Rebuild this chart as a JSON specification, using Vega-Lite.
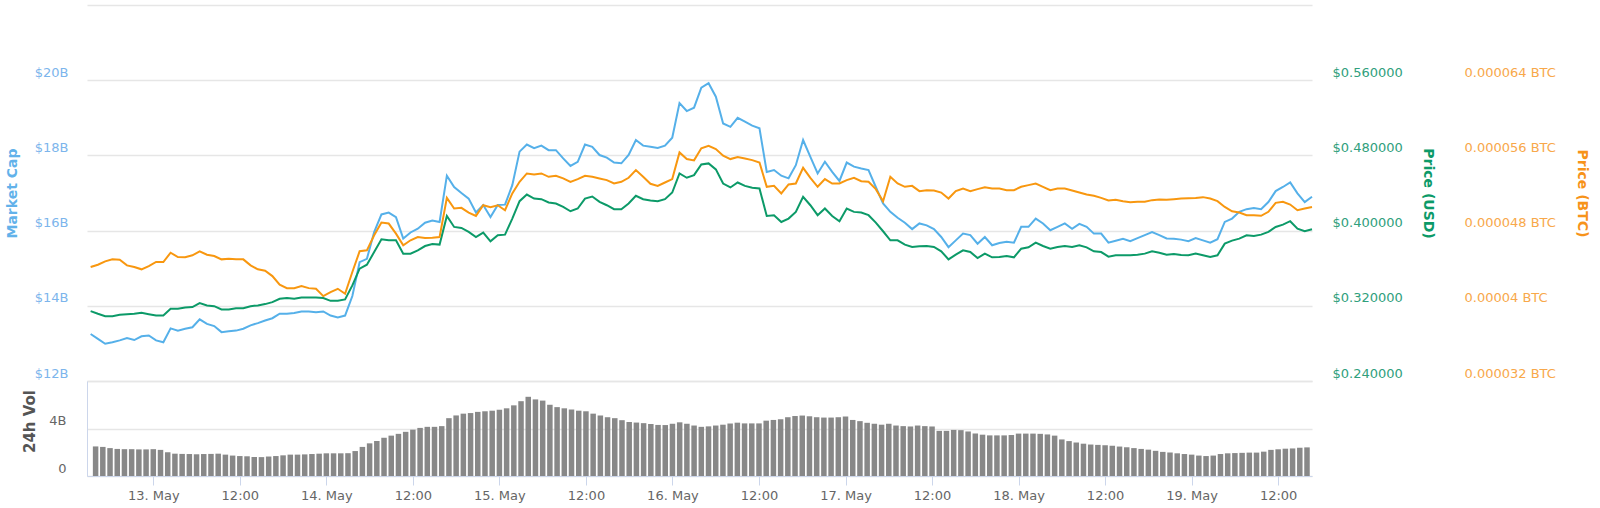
{
  "$schema": "https://vega.github.io/schema/vega-lite/v6.json",
  "description": "Market cap, price (USD), price (BTC) and 24h volume, 12-19 May",
  "autosize": "pad",
  "padding": {"left": 5, "top": 5, "right": 5, "bottom": 5},
  "background": "white",
  "spacing": 0,
  "bounds": "flush",
  "data": {
    "format": {"parse": {"t": "utc:'%Y-%m-%d %H'"}},
    "values": [
      {"t":"2019-05-12 16","cap":13.25,"usd":0.3143,"btc":0.00004412,"vol":2.49},
      {"t":"2019-05-12 17","cap":13.12,"usd":0.3115,"btc":0.00004437,"vol":2.45},
      {"t":"2019-05-12 18","cap":12.99,"usd":0.3090,"btc":0.00004473,"vol":2.35},
      {"t":"2019-05-12 19","cap":13.03,"usd":0.3090,"btc":0.00004494,"vol":2.28},
      {"t":"2019-05-12 20","cap":13.08,"usd":0.3104,"btc":0.00004491,"vol":2.26},
      {"t":"2019-05-12 21","cap":13.14,"usd":0.3111,"btc":0.00004430,"vol":2.26},
      {"t":"2019-05-12 22","cap":13.09,"usd":0.3115,"btc":0.00004412,"vol":2.24},
      {"t":"2019-05-12 23","cap":13.19,"usd":0.3125,"btc":0.00004388,"vol":2.24},
      {"t":"2019-05-13 00","cap":13.21,"usd":0.3111,"btc":0.00004423,"vol":2.26},
      {"t":"2019-05-13 01","cap":13.08,"usd":0.3097,"btc":0.00004466,"vol":2.20},
      {"t":"2019-05-13 02","cap":13.03,"usd":0.3097,"btc":0.00004466,"vol":2.00},
      {"t":"2019-05-13 03","cap":13.40,"usd":0.3168,"btc":0.00004565,"vol":1.88},
      {"t":"2019-05-13 04","cap":13.34,"usd":0.3168,"btc":0.00004519,"vol":1.86},
      {"t":"2019-05-13 05","cap":13.39,"usd":0.3182,"btc":0.00004516,"vol":1.85},
      {"t":"2019-05-13 06","cap":13.43,"usd":0.3186,"btc":0.00004537,"vol":1.83},
      {"t":"2019-05-13 07","cap":13.64,"usd":0.3228,"btc":0.00004580,"vol":1.85},
      {"t":"2019-05-13 08","cap":13.52,"usd":0.3204,"btc":0.00004544,"vol":1.86},
      {"t":"2019-05-13 09","cap":13.46,"usd":0.3196,"btc":0.00004530,"vol":1.88},
      {"t":"2019-05-13 10","cap":13.30,"usd":0.3161,"btc":0.00004494,"vol":1.80},
      {"t":"2019-05-13 11","cap":13.32,"usd":0.3161,"btc":0.00004501,"vol":1.72},
      {"t":"2019-05-13 12","cap":13.34,"usd":0.3175,"btc":0.00004494,"vol":1.68},
      {"t":"2019-05-13 13","cap":13.39,"usd":0.3175,"btc":0.00004494,"vol":1.66},
      {"t":"2019-05-13 14","cap":13.48,"usd":0.3196,"btc":0.00004430,"vol":1.60},
      {"t":"2019-05-13 15","cap":13.54,"usd":0.3204,"btc":0.00004388,"vol":1.59},
      {"t":"2019-05-13 16","cap":13.61,"usd":0.3218,"btc":0.00004373,"vol":1.64},
      {"t":"2019-05-13 17","cap":13.67,"usd":0.3239,"btc":0.00004316,"vol":1.68},
      {"t":"2019-05-13 18","cap":13.79,"usd":0.3275,"btc":0.00004224,"vol":1.74},
      {"t":"2019-05-13 19","cap":13.79,"usd":0.3282,"btc":0.00004188,"vol":1.80},
      {"t":"2019-05-13 20","cap":13.81,"usd":0.3275,"btc":0.00004188,"vol":1.80},
      {"t":"2019-05-13 21","cap":13.85,"usd":0.3289,"btc":0.00004210,"vol":1.82},
      {"t":"2019-05-13 22","cap":13.85,"usd":0.3289,"btc":0.00004188,"vol":1.85},
      {"t":"2019-05-13 23","cap":13.83,"usd":0.3289,"btc":0.00004181,"vol":1.88},
      {"t":"2019-05-14 00","cap":13.85,"usd":0.3282,"btc":0.00004103,"vol":1.91},
      {"t":"2019-05-14 01","cap":13.74,"usd":0.3253,"btc":0.00004146,"vol":1.91},
      {"t":"2019-05-14 02","cap":13.69,"usd":0.3253,"btc":0.00004181,"vol":1.91},
      {"t":"2019-05-14 03","cap":13.74,"usd":0.3268,"btc":0.00004128,"vol":1.92},
      {"t":"2019-05-14 04","cap":14.26,"usd":0.3417,"btc":0.00004359,"vol":2.10},
      {"t":"2019-05-14 05","cap":15.16,"usd":0.3595,"btc":0.00004580,"vol":2.45},
      {"t":"2019-05-14 06","cap":15.25,"usd":0.3637,"btc":0.00004590,"vol":2.75},
      {"t":"2019-05-14 07","cap":15.96,"usd":0.3772,"btc":0.00004750,"vol":2.95},
      {"t":"2019-05-14 08","cap":16.43,"usd":0.3908,"btc":0.00004885,"vol":3.22},
      {"t":"2019-05-14 09","cap":16.48,"usd":0.3897,"btc":0.00004875,"vol":3.40},
      {"t":"2019-05-14 10","cap":16.36,"usd":0.3897,"btc":0.00004768,"vol":3.55},
      {"t":"2019-05-14 11","cap":15.79,"usd":0.3755,"btc":0.00004644,"vol":3.72},
      {"t":"2019-05-14 12","cap":15.95,"usd":0.3755,"btc":0.00004697,"vol":3.90},
      {"t":"2019-05-14 13","cap":16.05,"usd":0.3790,"btc":0.00004732,"vol":4.05},
      {"t":"2019-05-14 14","cap":16.21,"usd":0.3836,"btc":0.00004722,"vol":4.14},
      {"t":"2019-05-14 15","cap":16.27,"usd":0.3858,"btc":0.00004725,"vol":4.14},
      {"t":"2019-05-14 16","cap":16.23,"usd":0.3851,"btc":0.00004732,"vol":4.20},
      {"t":"2019-05-14 17","cap":17.46,"usd":0.4156,"btc":0.00005148,"vol":4.87},
      {"t":"2019-05-14 18","cap":17.16,"usd":0.4039,"btc":0.00005035,"vol":5.10},
      {"t":"2019-05-14 19","cap":17.00,"usd":0.4028,"btc":0.00005042,"vol":5.25},
      {"t":"2019-05-14 20","cap":16.85,"usd":0.3986,"btc":0.00004992,"vol":5.30},
      {"t":"2019-05-14 21","cap":16.48,"usd":0.3932,"btc":0.00004956,"vol":5.40},
      {"t":"2019-05-14 22","cap":16.68,"usd":0.3979,"btc":0.00005070,"vol":5.45},
      {"t":"2019-05-14 23","cap":16.36,"usd":0.3886,"btc":0.00005049,"vol":5.50},
      {"t":"2019-05-15 00","cap":16.68,"usd":0.3950,"btc":0.00005070,"vol":5.58},
      {"t":"2019-05-15 01","cap":16.69,"usd":0.3957,"btc":0.00005017,"vol":5.70},
      {"t":"2019-05-15 02","cap":17.21,"usd":0.4128,"btc":0.00005195,"vol":5.95},
      {"t":"2019-05-15 03","cap":18.10,"usd":0.4313,"btc":0.00005319,"vol":6.30},
      {"t":"2019-05-15 04","cap":18.29,"usd":0.4384,"btc":0.00005408,"vol":6.67},
      {"t":"2019-05-15 05","cap":18.19,"usd":0.4341,"btc":0.00005397,"vol":6.45},
      {"t":"2019-05-15 06","cap":18.26,"usd":0.4334,"btc":0.00005408,"vol":6.35},
      {"t":"2019-05-15 07","cap":18.14,"usd":0.4299,"btc":0.00005372,"vol":6.00},
      {"t":"2019-05-15 08","cap":18.14,"usd":0.4288,"btc":0.00005383,"vol":5.80},
      {"t":"2019-05-15 09","cap":17.92,"usd":0.4252,"btc":0.00005355,"vol":5.70},
      {"t":"2019-05-15 10","cap":17.72,"usd":0.4206,"btc":0.00005319,"vol":5.60},
      {"t":"2019-05-15 11","cap":17.83,"usd":0.4235,"btc":0.00005348,"vol":5.50},
      {"t":"2019-05-15 12","cap":18.29,"usd":0.4341,"btc":0.00005383,"vol":5.45},
      {"t":"2019-05-15 13","cap":18.23,"usd":0.4363,"btc":0.00005372,"vol":5.25},
      {"t":"2019-05-15 14","cap":18.01,"usd":0.4306,"btc":0.00005355,"vol":5.10},
      {"t":"2019-05-15 15","cap":17.94,"usd":0.4270,"btc":0.00005337,"vol":4.95},
      {"t":"2019-05-15 16","cap":17.81,"usd":0.4228,"btc":0.00005301,"vol":4.87},
      {"t":"2019-05-15 17","cap":17.79,"usd":0.4228,"btc":0.00005319,"vol":4.70},
      {"t":"2019-05-15 18","cap":18.01,"usd":0.4288,"btc":0.00005362,"vol":4.55},
      {"t":"2019-05-15 19","cap":18.41,"usd":0.4370,"btc":0.00005444,"vol":4.50},
      {"t":"2019-05-15 20","cap":18.26,"usd":0.4334,"btc":0.00005372,"vol":4.45},
      {"t":"2019-05-15 21","cap":18.23,"usd":0.4320,"btc":0.00005298,"vol":4.38},
      {"t":"2019-05-15 22","cap":18.20,"usd":0.4313,"btc":0.00005276,"vol":4.30},
      {"t":"2019-05-15 23","cap":18.26,"usd":0.4334,"btc":0.00005312,"vol":4.29},
      {"t":"2019-05-16 00","cap":18.47,"usd":0.4405,"btc":0.00005348,"vol":4.40},
      {"t":"2019-05-16 01","cap":19.39,"usd":0.4608,"btc":0.00005632,"vol":4.52},
      {"t":"2019-05-16 02","cap":19.18,"usd":0.4562,"btc":0.00005561,"vol":4.40},
      {"t":"2019-05-16 03","cap":19.27,"usd":0.4590,"btc":0.00005547,"vol":4.25},
      {"t":"2019-05-16 04","cap":19.80,"usd":0.4704,"btc":0.00005675,"vol":4.14},
      {"t":"2019-05-16 05","cap":19.92,"usd":0.4715,"btc":0.00005703,"vol":4.18},
      {"t":"2019-05-16 06","cap":19.56,"usd":0.4651,"btc":0.00005668,"vol":4.25},
      {"t":"2019-05-16 07","cap":18.85,"usd":0.4501,"btc":0.00005596,"vol":4.32},
      {"t":"2019-05-16 08","cap":18.76,"usd":0.4459,"btc":0.00005561,"vol":4.42},
      {"t":"2019-05-16 09","cap":19.00,"usd":0.4512,"btc":0.00005582,"vol":4.49},
      {"t":"2019-05-16 10","cap":18.90,"usd":0.4476,"btc":0.00005568,"vol":4.43},
      {"t":"2019-05-16 11","cap":18.79,"usd":0.4455,"btc":0.00005550,"vol":4.43},
      {"t":"2019-05-16 12","cap":18.72,"usd":0.4448,"btc":0.00005525,"vol":4.43},
      {"t":"2019-05-16 13","cap":17.56,"usd":0.4156,"btc":0.00005266,"vol":4.66},
      {"t":"2019-05-16 14","cap":17.61,"usd":0.4164,"btc":0.00005276,"vol":4.72},
      {"t":"2019-05-16 15","cap":17.46,"usd":0.4092,"btc":0.00005195,"vol":4.78},
      {"t":"2019-05-16 16","cap":17.39,"usd":0.4128,"btc":0.00005291,"vol":4.95},
      {"t":"2019-05-16 17","cap":17.74,"usd":0.4199,"btc":0.00005301,"vol":5.05},
      {"t":"2019-05-16 18","cap":18.41,"usd":0.4359,"btc":0.00005468,"vol":5.09},
      {"t":"2019-05-16 19","cap":17.96,"usd":0.4270,"btc":0.00005362,"vol":5.03},
      {"t":"2019-05-16 20","cap":17.52,"usd":0.4164,"btc":0.00005266,"vol":4.95},
      {"t":"2019-05-16 21","cap":17.83,"usd":0.4235,"btc":0.00005348,"vol":4.92},
      {"t":"2019-05-16 22","cap":17.56,"usd":0.4156,"btc":0.00005301,"vol":4.92},
      {"t":"2019-05-16 23","cap":17.32,"usd":0.4100,"btc":0.00005301,"vol":4.95},
      {"t":"2019-05-17 00","cap":17.81,"usd":0.4235,"btc":0.00005337,"vol":5.01},
      {"t":"2019-05-17 01","cap":17.70,"usd":0.4199,"btc":0.00005362,"vol":4.72},
      {"t":"2019-05-17 02","cap":17.65,"usd":0.4192,"btc":0.00005326,"vol":4.62},
      {"t":"2019-05-17 03","cap":17.61,"usd":0.4164,"btc":0.00005319,"vol":4.48},
      {"t":"2019-05-17 04","cap":17.16,"usd":0.4085,"btc":0.00005241,"vol":4.40},
      {"t":"2019-05-17 05","cap":16.72,"usd":0.3993,"btc":0.00005113,"vol":4.32},
      {"t":"2019-05-17 06","cap":16.50,"usd":0.3897,"btc":0.00005372,"vol":4.40},
      {"t":"2019-05-17 07","cap":16.34,"usd":0.3897,"btc":0.00005301,"vol":4.25},
      {"t":"2019-05-17 08","cap":16.21,"usd":0.3851,"btc":0.00005266,"vol":4.20},
      {"t":"2019-05-17 09","cap":16.04,"usd":0.3826,"btc":0.00005276,"vol":4.17},
      {"t":"2019-05-17 10","cap":16.19,"usd":0.3833,"btc":0.00005220,"vol":4.25},
      {"t":"2019-05-17 11","cap":16.14,"usd":0.3836,"btc":0.00005230,"vol":4.20},
      {"t":"2019-05-17 12","cap":16.04,"usd":0.3826,"btc":0.00005227,"vol":4.17},
      {"t":"2019-05-17 13","cap":15.83,"usd":0.3780,"btc":0.00005205,"vol":3.80},
      {"t":"2019-05-17 14","cap":15.56,"usd":0.3694,"btc":0.00005141,"vol":3.80},
      {"t":"2019-05-17 15","cap":15.74,"usd":0.3744,"btc":0.00005220,"vol":3.88},
      {"t":"2019-05-17 16","cap":15.92,"usd":0.3790,"btc":0.00005248,"vol":3.86},
      {"t":"2019-05-17 17","cap":15.88,"usd":0.3772,"btc":0.00005220,"vol":3.75},
      {"t":"2019-05-17 18","cap":15.65,"usd":0.3708,"btc":0.00005241,"vol":3.58},
      {"t":"2019-05-17 19","cap":15.83,"usd":0.3755,"btc":0.00005262,"vol":3.48},
      {"t":"2019-05-17 20","cap":15.61,"usd":0.3716,"btc":0.00005248,"vol":3.42},
      {"t":"2019-05-17 21","cap":15.67,"usd":0.3719,"btc":0.00005248,"vol":3.42},
      {"t":"2019-05-17 22","cap":15.70,"usd":0.3730,"btc":0.00005230,"vol":3.42},
      {"t":"2019-05-17 23","cap":15.68,"usd":0.3716,"btc":0.00005230,"vol":3.45},
      {"t":"2019-05-18 00","cap":16.10,"usd":0.3808,"btc":0.00005266,"vol":3.57},
      {"t":"2019-05-18 01","cap":16.10,"usd":0.3822,"btc":0.00005284,"vol":3.57},
      {"t":"2019-05-18 02","cap":16.32,"usd":0.3872,"btc":0.00005301,"vol":3.57},
      {"t":"2019-05-18 03","cap":16.19,"usd":0.3836,"btc":0.00005266,"vol":3.55},
      {"t":"2019-05-18 04","cap":16.01,"usd":0.3808,"btc":0.00005230,"vol":3.50},
      {"t":"2019-05-18 05","cap":16.10,"usd":0.3826,"btc":0.00005248,"vol":3.40},
      {"t":"2019-05-18 06","cap":16.19,"usd":0.3836,"btc":0.00005248,"vol":3.08},
      {"t":"2019-05-18 07","cap":16.05,"usd":0.3826,"btc":0.00005227,"vol":2.94},
      {"t":"2019-05-18 08","cap":16.18,"usd":0.3844,"btc":0.00005205,"vol":2.82},
      {"t":"2019-05-18 09","cap":16.10,"usd":0.3822,"btc":0.00005184,"vol":2.72},
      {"t":"2019-05-18 10","cap":15.92,"usd":0.3780,"btc":0.00005170,"vol":2.65},
      {"t":"2019-05-18 11","cap":15.92,"usd":0.3772,"btc":0.00005148,"vol":2.62},
      {"t":"2019-05-18 12","cap":15.68,"usd":0.3723,"btc":0.00005120,"vol":2.59},
      {"t":"2019-05-18 13","cap":15.73,"usd":0.3737,"btc":0.00005127,"vol":2.55},
      {"t":"2019-05-18 14","cap":15.78,"usd":0.3737,"btc":0.00005113,"vol":2.48},
      {"t":"2019-05-18 15","cap":15.72,"usd":0.3737,"btc":0.00005102,"vol":2.42},
      {"t":"2019-05-18 16","cap":15.80,"usd":0.3744,"btc":0.00005106,"vol":2.35},
      {"t":"2019-05-18 17","cap":15.88,"usd":0.3755,"btc":0.00005106,"vol":2.28},
      {"t":"2019-05-18 18","cap":15.96,"usd":0.3780,"btc":0.00005124,"vol":2.22},
      {"t":"2019-05-18 19","cap":15.88,"usd":0.3765,"btc":0.00005131,"vol":2.12},
      {"t":"2019-05-18 20","cap":15.79,"usd":0.3744,"btc":0.00005127,"vol":2.03},
      {"t":"2019-05-18 21","cap":15.78,"usd":0.3751,"btc":0.00005134,"vol":1.98},
      {"t":"2019-05-18 22","cap":15.76,"usd":0.3740,"btc":0.00005141,"vol":1.91},
      {"t":"2019-05-18 23","cap":15.72,"usd":0.3737,"btc":0.00005145,"vol":1.85},
      {"t":"2019-05-19 00","cap":15.80,"usd":0.3755,"btc":0.00005148,"vol":1.80},
      {"t":"2019-05-19 01","cap":15.74,"usd":0.3737,"btc":0.00005156,"vol":1.72},
      {"t":"2019-05-19 02","cap":15.68,"usd":0.3719,"btc":0.00005141,"vol":1.68},
      {"t":"2019-05-19 03","cap":15.77,"usd":0.3737,"btc":0.00005113,"vol":1.72},
      {"t":"2019-05-19 04","cap":16.23,"usd":0.3861,"btc":0.00005052,"vol":1.85},
      {"t":"2019-05-19 05","cap":16.32,"usd":0.3893,"btc":0.00005006,"vol":1.91},
      {"t":"2019-05-19 06","cap":16.50,"usd":0.3915,"btc":0.00004992,"vol":1.93},
      {"t":"2019-05-19 07","cap":16.57,"usd":0.3950,"btc":0.00004964,"vol":1.95},
      {"t":"2019-05-19 08","cap":16.60,"usd":0.3943,"btc":0.00004964,"vol":1.97},
      {"t":"2019-05-19 09","cap":16.57,"usd":0.3957,"btc":0.00004957,"vol":1.97},
      {"t":"2019-05-19 10","cap":16.76,"usd":0.3986,"btc":0.00005000,"vol":2.05},
      {"t":"2019-05-19 11","cap":17.05,"usd":0.4039,"btc":0.00005095,"vol":2.20},
      {"t":"2019-05-19 12","cap":17.16,"usd":0.4064,"btc":0.00005106,"vol":2.25},
      {"t":"2019-05-19 13","cap":17.28,"usd":0.4100,"btc":0.00005077,"vol":2.30},
      {"t":"2019-05-19 14","cap":16.99,"usd":0.4021,"btc":0.00005017,"vol":2.32},
      {"t":"2019-05-19 15","cap":16.76,"usd":0.3993,"btc":0.00005035,"vol":2.38},
      {"t":"2019-05-19 16","cap":16.90,"usd":0.4014,"btc":0.00005052,"vol":2.41}
    ]
  },
  "vconcat": [
    {
      "width": 1225,
      "height": 376,
      "encoding": {
        "x": {
          "field": "t",
          "type": "temporal",
          "scale": {"type": "utc", "domain": [1557675000000, 1558281600000]},
          "axis": null
        }
      },
      "layer": [
        {
          "mark": {"type": "line", "color": "#55b0e9", "strokeWidth": 2},
          "encoding": {
            "y": {
              "field": "cap",
              "type": "quantitative",
              "scale": {"domain": [12, 22], "nice": false, "zero": false},
              "axis": {
                "orient": "left",
                "values": [12, 14, 16, 18, 20, 22],
                "grid": true,
                "labelExpr": "datum.value == 22 ? '' : '$' + datum.value + 'B'",
                "labelFontSize": {"condition": {"test": "datum.value == 22", "value": 0}, "value": 13},
                "labelOffset": {"condition": {"test": "datum.value == 22", "value": 20}, "value": -8},
                "labelColor": "#7cb5ec",
                "labelPadding": 19,
                "title": "Market Cap",
                "titleColor": "#62b2ea",
                "titleFontSize": 14,
                "titleFontWeight": "bold",
                "titleAngle": 270,
                "titleX": -75,
                "titleY": 188,
                "titleAlign": "center",
                "titleBaseline": "middle"
              }
            }
          }
        },
        {
          "mark": {"type": "line", "color": "#0c9a68", "strokeWidth": 2},
          "encoding": {
            "y": {
              "field": "usd",
              "type": "quantitative",
              "scale": {"domain": [0.24, 0.64], "nice": false, "zero": false},
              "axis": {
                "orient": "right",
                "values": [0.24, 0.32, 0.4, 0.48, 0.56],
                "grid": false,
                "labelExpr": "'$' + format(datum.value, '.6f')",
                "labelColor": "#2fa07c",
                "labelPadding": 20,
                "labelOffset": -8,
                "title": "Price (USD)",
                "titleColor": "#0c9a68",
                "titleFontSize": 14,
                "titleFontWeight": "bold",
                "titleAngle": 90,
                "titleX": 115,
                "titleY": 188,
                "titleAlign": "center",
                "titleBaseline": "middle"
              }
            }
          }
        },
        {
          "mark": {"type": "line", "color": "#f8970f", "strokeWidth": 2},
          "encoding": {
            "y": {
              "field": "btc",
              "type": "quantitative",
              "scale": {"domain": [0.000032, 0.000072], "nice": false, "zero": false},
              "axis": {
                "orient": "right",
                "values": [0.000032, 0.00004, 0.000048, 0.000056, 0.000064],
                "grid": false,
                "labelExpr": "datum.value + ' BTC'",
                "labelColor": "#f8a84a",
                "labelPadding": 152,
                "labelOffset": -8,
                "title": "Price (BTC)",
                "titleColor": "#f7931a",
                "titleFontSize": 14,
                "titleFontWeight": "bold",
                "titleAngle": 90,
                "titleX": 269,
                "titleY": 188,
                "titleAlign": "center",
                "titleBaseline": "middle"
              }
            }
          }
        }
      ],
      "resolve": {"scale": {"y": "independent"}}
    },
    {
      "width": 1225,
      "height": 95,
      "mark": {"type": "bar", "color": "#888888", "size": 5.5},
      "encoding": {
        "x": {
          "field": "t",
          "type": "temporal",
          "scale": {"type": "utc", "domain": [1557675000000, 1558281600000]},
          "axis": {
            "values": [1557705600000, 1557748800000, 1557792000000, 1557835200000, 1557878400000, 1557921600000, 1557964800000, 1558008000000, 1558051200000, 1558094400000, 1558137600000, 1558180800000, 1558224000000, 1558267200000],
            "labelExpr": "utchours(datum.value) == 0 ? utcFormat(datum.value, '%d. %b') : utcFormat(datum.value, '%H:%M')",
            "title": null,
            "grid": false,
            "domain": true,
            "domainColor": "#ccd6eb",
            "ticks": true,
            "tickColor": "#ccd6eb",
            "tickSize": 9,
            "labelPadding": 4,
            "labelColor": "#666666"
          }
        },
        "y": {
          "field": "vol",
          "type": "quantitative",
          "scale": {"domain": [0, 8], "nice": false},
          "axis": {
            "orient": "left",
            "values": [0, 4, 8],
            "grid": true,
            "labelExpr": "datum.value == 8 ? '' : datum.value == 0 ? '0' : datum.value + 'B'",
            "labelFontSize": {"condition": {"test": "datum.value == 8", "value": 0}, "value": 13},
            "labelOffset": {"condition": {"test": "datum.value == 8", "value": 20}, "value": -8},
            "labelColor": "#666666",
            "labelPadding": 21,
            "domain": true,
            "domainColor": "#ccd6eb",
            "title": "24h Vol",
            "titleColor": "#555555",
            "titleFontSize": 15,
            "titleFontWeight": "bold",
            "titleAngle": 270,
            "titleX": -58,
            "titleY": 40,
            "titleAlign": "center",
            "titleBaseline": "middle"
          }
        }
      }
    }
  ],
  "config": {
    "view": {"stroke": null},
    "font": "DejaVu Sans",
    "axis": {
      "domain": false,
      "ticks": false,
      "gridColor": "#e6e6e6",
      "gridWidth": 1.5,
      "labelFont": "DejaVu Sans",
      "labelFontSize": 13,
      "labelFlush": false,
      "labelOverlap": false,
      "titleFont": "DejaVu Sans"
    }
  }
}
